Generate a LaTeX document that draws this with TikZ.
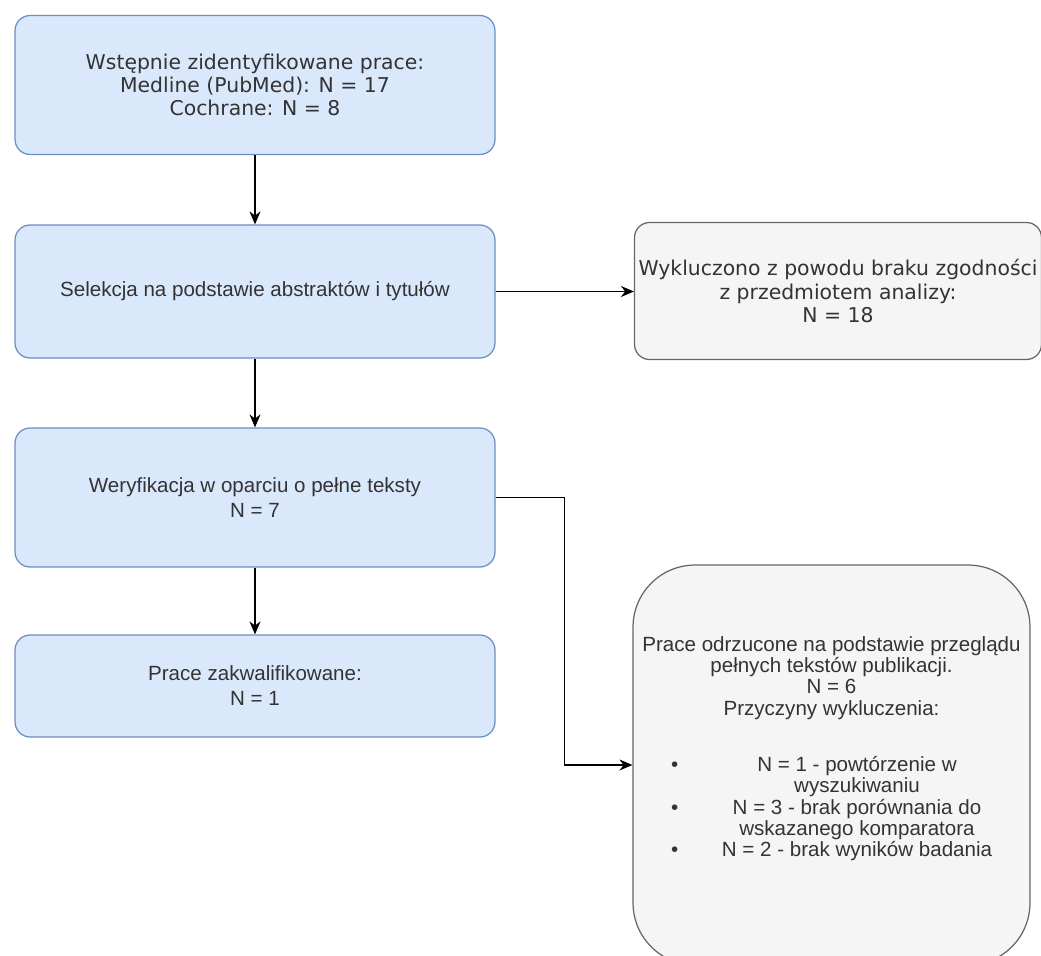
\documentclass[tikz,border=0pt]{standalone}
\usepackage{fontspec}
\setmainfont{Liberation Sans}
\newfontfamily\verdana{DejaVu Sans}
\usetikzlibrary{arrows.meta}
\definecolor{boxblue}{HTML}{DAE8FC}
\definecolor{edgeblue}{HTML}{6C8EBF}
\definecolor{boxgrey}{HTML}{F5F5F5}
\definecolor{edgegrey}{HTML}{666666}
\definecolor{txtgrey}{HTML}{333333}
\tikzset{
  bluebox/.style={draw=edgeblue,fill=boxblue,line width=0.7pt,rounded corners=0.3cm,
    minimum width=9.6cm,align=center,text=txtgrey,inner sep=0pt},
  greybox/.style={draw=edgegrey,fill=boxgrey,line width=0.7pt,align=center,
    text=txtgrey,inner sep=0pt},
  flow/.style={-{Stealth[length=2.6mm,width=2.2mm]},line width=0.8pt,black},
}
\newcommand{\bitem}[2]{\makebox[1.02cm][l]{#1}\makebox[5.4cm]{#2}}
\begin{document}
\begin{tikzpicture}[x=0.02cm,y=-0.02cm]
  \useasboundingbox (0,0) rectangle (1041,956);
  % main column
  \node[bluebox,minimum height=2.78cm,font=\verdana\fontsize{11.6}{13.3}\selectfont] (ident) at (255,85)
    {Wstępnie zidentyfikowane prace:\\ Medline (PubMed): N = 17\\ Cochrane: N = 8};
  \node[bluebox,minimum height=2.66cm,font=\fontsize{11.7}{14.2}\selectfont] (select) at (255,291.5)
    {Selekcja na podstawie abstraktów i tytułów};
  \node[bluebox,minimum height=2.78cm,font=\fontsize{11.7}{14.2}\selectfont] (verify) at (255,497.5)
    {Weryfikacja w oparciu o pełne teksty\\ N = 7};
  \node[bluebox,minimum height=2.04cm,font=\fontsize{11.7}{14.2}\selectfont] (qual) at (255,686)
    {Prace zakwalifikowane:\\ N = 1};
  % excluded
  \node[greybox,rounded corners=0.3cm,minimum width=8.14cm,minimum height=2.74cm,
    font=\verdana\fontsize{11.6}{13.3}\selectfont] (excl) at (838,291)
    {\makebox[0pt][c]{Wykluczono z powodu braku zgodności}\\ z przedmiotem analizy:\\ N = 18};
  \node[greybox,rounded corners=1.24cm,minimum width=7.94cm,minimum height=8cm,text depth=21pt,
    font=\fontsize{11.7}{12.2}\selectfont] (reject) at (831.5,765)
    {Prace odrzucone na podstawie przeglądu\\ pełnych tekstów publikacji.\\ N = 6\\
     Przyczyny wykluczenia:\\[0.69cm]
     \bitem{\textbullet}{N = 1 - powtórzenie w}\\
     \bitem{}{wyszukiwaniu}\\
     \bitem{\textbullet}{N = 3 - brak porównania do}\\
     \bitem{}{wskazanego komparatora}\\
     \bitem{\textbullet}{N = 2 - brak wyników badania}};
  % connectors
  \draw[flow] (ident) -- (select);
  \draw[flow] (select.east) -- (select.east -| excl.west);
  \draw[flow] (select) -- (verify);
  \draw[flow] (verify) -- (qual);
  \draw[flow] (verify.east) -- ++(69,0) |- (reject.west);
\end{tikzpicture}
\end{document}
